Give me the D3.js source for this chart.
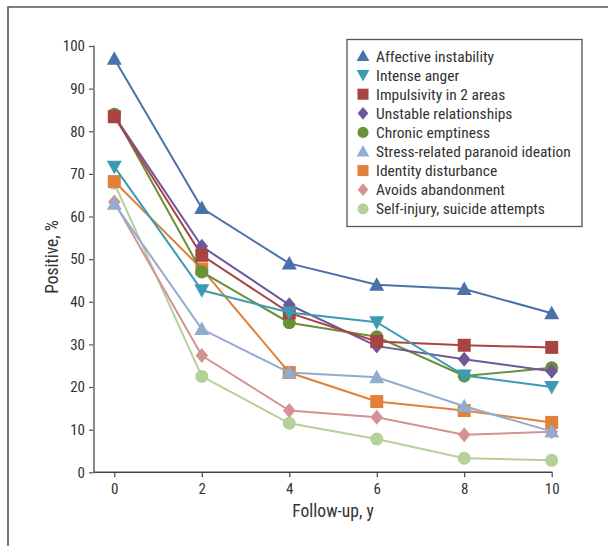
<!DOCTYPE html>
<html><head><meta charset="utf-8">
<script src="https://cdn.jsdelivr.net/npm/d3@7"></script>
<style>
body{margin:0;background:#fff;}
text{font-family:"Liberation Sans Narrow","Roboto Condensed","DejaVu Sans Condensed",Arial,sans-serif;fill:#333;}
</style></head>
<body><svg id="c" width="608" height="546"></svg>
<script>
const years = [0, 2, 4, 6, 8, 10];
const seriesNames = ["Affective instability","Intense anger","Impulsivity in 2 areas","Unstable relationships","Chronic emptiness","Stress-related paranoid ideation","Identity disturbance","Avoids abandonment","Self-injury, suicide attempts"];
const affective = [97, 62, 49, 44, 43, 37.3];
const anger = [71.7, 42.7, 37.5, 35.2, 22.7, 20];
const impulsivity = [83.4, 50.9, 37.4, 30.7, 29.8, 29.3];
const unstable = [83.6, 53, 39.3, 29.6, 26.5, 23.7];
const emptiness = [84, 47, 35.1, 31.8, 22.6, 24.5];
const paranoid = [63, 33.6, 23.4, 22.3, 15.5, 9.6];
const identity = [68.2, 47.7, 23.4, 16.6, 14.5, 11.7];
const abandonment = [63.4, 27.4, 14.5, 12.9, 8.8, 9.5];
const selfInjury = [67.8, 22.5, 11.5, 7.8, 3.3, 2.8];
const yTicks = [0,10,20,30,40,50,60,70,80,90,100];
const xTicks = [0,2,4,6,8,10];

const seriesValues = [affective, anger, impulsivity, unstable, emptiness, paranoid, identity, abandonment, selfInjury];
const colors = ["#4a72aa","#3b9bb3","#a84442","#70579a","#6a9039","#93aad1","#e0823a","#d49393","#b6d099"];
const shapes = ["tri","tridown","square","diamond","circle","tri","square","diamond","circle"];

const svg = d3.select("#c");
const x = d3.scaleLinear().domain([0,10]).range([114.3, 551.7]);
const y = d3.scaleLinear().domain([0,100]).range([472.3, 46]);

// frame
svg.append("path").attr("d","M8,546V7H608").attr("fill","none").attr("stroke","#555").attr("stroke-width",1.6);

function markerPath(shape, s) {
  s = s || 1;
  if (shape === "tri") { const h=7.5*s, w=7.5*s; return `M0,${-h}L${w},${h*0.8}L${-w},${h*0.8}Z`; }
  if (shape === "tridown") { const h=7.5*s, w=7.5*s; return `M0,${h}L${w},${-h*0.8}L${-w},${-h*0.8}Z`; }
  if (shape === "square") { const a=6.5*s; return `M${-a},${-a}H${a}V${a}H${-a}Z`; }
  if (shape === "diamond") { const h=7.5*s, w=6.3*s; return `M0,${-h}L${w},0L0,${h}L${-w},0Z`; }
  const r=6.5*s; return `M${r},0A${r},${r},0,1,1,${-r},0A${r},${r},0,1,1,${r},0Z`;
}

// axes
const yAxis = d3.axisLeft(y).tickValues(yTicks).tickSize(5).tickSizeOuter(0).tickPadding(4);
const gy = svg.append("g").attr("transform","translate(94,0)").call(yAxis);
gy.select(".domain").remove();
gy.selectAll(".tick line").attr("stroke","#555").attr("stroke-width",1.2);
gy.selectAll("text").attr("font-size",15).style("fill","#333");
svg.append("line").attr("x1",94).attr("x2",94).attr("y1",y(100)-0.5).attr("y2",y(0)).attr("stroke","#8a8a8a").attr("stroke-width",2);

const xAxis = d3.axisBottom(x).tickValues(xTicks).tickSize(5).tickSizeOuter(0).tickPadding(6);
const gx = svg.append("g").attr("transform",`translate(0,${y(0)})`).call(xAxis);
gx.select(".domain").remove();
gx.selectAll(".tick line").attr("stroke","#444").attr("stroke-width",1.2);
gx.selectAll("text").attr("font-size",15).style("fill","#333");
svg.append("line").attr("x1",94).attr("x2",x(10)+0.6).attr("y1",y(0)).attr("y2",y(0)).attr("stroke","#444").attr("stroke-width",1.4);

svg.append("text").attr("x",x(5)).attr("y",516.5).attr("text-anchor","middle").attr("font-size",17.5).text("Follow-up, y");
svg.append("text").attr("transform",`translate(57.5,257) rotate(-90)`).attr("text-anchor","middle").attr("font-size",17.5).text("Positive, %");

// series (draw last first)
const line = d3.line().x((d,i)=>x(years[i])).y(d=>y(d));
for (let k = seriesValues.length-1; k >= 0; k--) {
  const g = svg.append("g");
  g.append("path").attr("d", line(seriesValues[k])).attr("fill","none").attr("stroke",colors[k]).attr("stroke-width",2);
  g.selectAll("path.m").data(seriesValues[k]).join("path").attr("class","m")
    .attr("transform",(d,i)=>`translate(${x(years[i])},${y(d)})`)
    .attr("d", markerPath(shapes[k])).attr("fill",colors[k]);
}

// legend
const lg = svg.append("g");
lg.append("rect").attr("x",347).attr("y",39.5).attr("width",235).attr("height",187).attr("fill","#fff").attr("stroke","#555").attr("stroke-width",1.3);
seriesNames.forEach((n,k)=>{
  const cy = 56 + k*19.1;
  lg.append("path").attr("transform",`translate(363,${cy})`).attr("d",markerPath(shapes[k],0.85)).attr("fill",colors[k]);
  lg.append("text").attr("x",376).attr("y",cy+5.5).attr("font-size",15.5).text(n);
});
</script></body></html>
